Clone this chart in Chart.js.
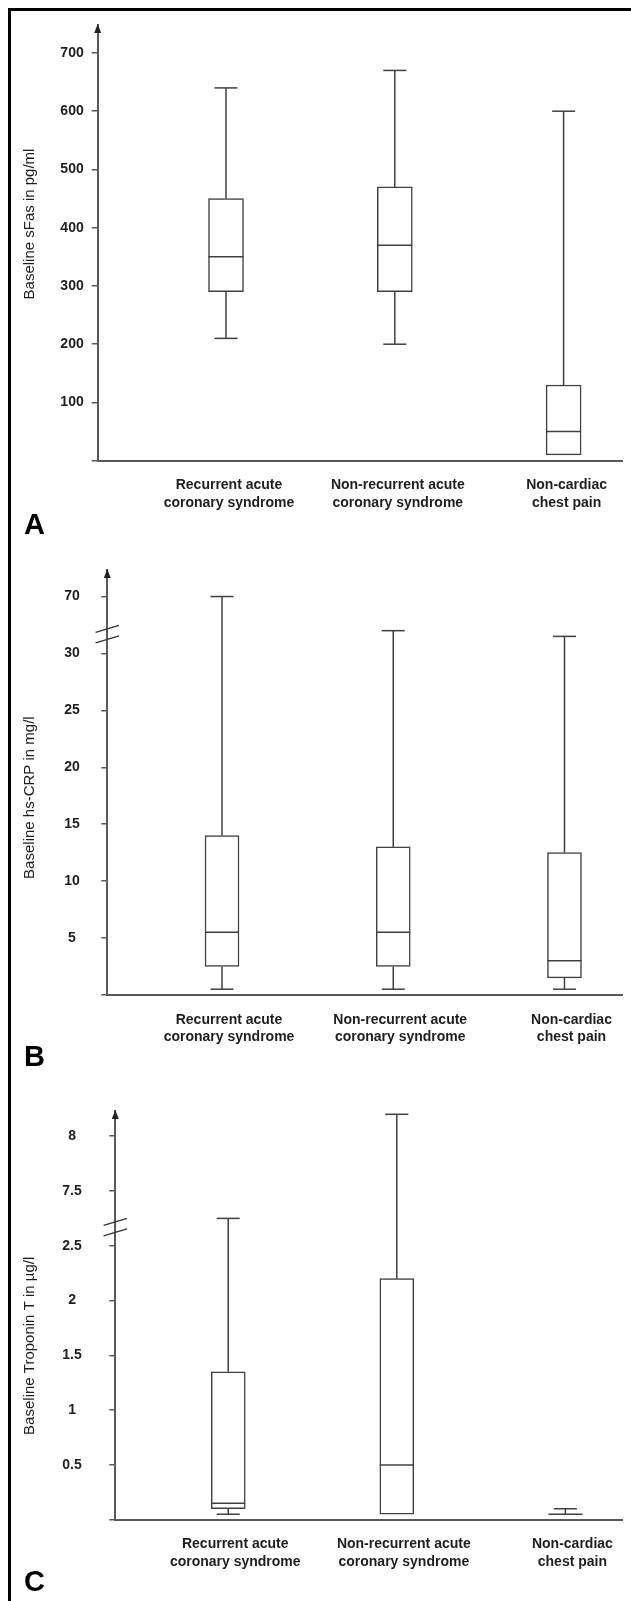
<!DOCTYPE html>
<html>
<head>
<meta charset="utf-8">
<title>Baseline sFas, hs-CRP and Troponin T</title>
<script src="https://cdn.jsdelivr.net/npm/chart.js@4/dist/chart.umd.min.js"></script>
<style>
	html, body { margin: 0; padding: 0; background: #fff; }
	#page { position: relative; width: 631px; height: 1601px; overflow: hidden; }
	#frame { position: absolute; left: 8px; top: 8px; right: -3px; bottom: -3px; border-top: 3px solid #000; border-left: 3px solid #000; }
	canvas { position: absolute; left: 0; }
</style>
</head>
<body>
<div id="page">
	<div id="frame"></div>
	<canvas id="chartA" width="631" height="540" style="top:0px"></canvas>
	<canvas id="chartB" width="631" height="535" style="top:540px"></canvas>
	<canvas id="chartC" width="631" height="526" style="top:1075px"></canvas>
</div>
<script>
// groups (same for all three panels)
const groups = [
	['Recurrent acute', 'coronary syndrome'],
	['Non-recurrent acute', 'coronary syndrome'],
	['Non-cardiac', 'chest pain']
];
const groupIndex = [1, 2, 3];

// A - baseline sFas, pg/ml
const sfasTicks = [0, 100, 200, 300, 400, 500, 600, 700];
const sfasMin = [210, 200, 10];
const sfasQ1 = [290, 290, 10];
const sfasMedian = [350, 370, 50];
const sfasQ3 = [450, 470, 130];
const sfasMax = [640, 670, 600];

// B - baseline hs-CRP, mg/l (axis broken between 30 and 70)
const crpTicks = [0, 5, 10, 15, 20, 25, 30, 70];
const crpMin = [0.5, 0.5, 0.5];
const crpQ1 = [2.5, 2.5, 1.5];
const crpMedian = [5.5, 5.5, 3];
const crpQ3 = [14, 13, 12.5];
const crpMax = [70, 46, 42];

// C - baseline Troponin T, µg/l (axis broken between 2.5 and 7.5)
const tntTicks = [0, 0.5, 1, 1.5, 2, 2.5, 7.5, 8];
const tntMin = [0.05, 0.05, 0.05];
const tntQ1 = [0.1, 0.05, 0.05];
const tntMedian = [0.15, 0.5, 0.05];
const tntQ3 = [1.35, 2.2, 0.05];
const tntMax = [5, 8.2, 0.1];

Chart.defaults.font.family = '"Liberation Sans", Arial, sans-serif';
Chart.defaults.color = '#1e1e1e';

const AXIS = '#5a5a5a';
const INK = '#404040';

/**
 * value -> position on a y axis that has a break (brk = {from, to, gap})
 */
function breakMap(brk) {
	return function(v) {
		if (!brk || v <= brk.from) return v;
		if (v <= brk.to) return brk.from + (v - brk.from) / (brk.to - brk.from) * brk.gap;
		return v - (brk.to - brk.from) + brk.gap;
	};
}

// whiskers, caps and median line on top of the floating bars
const whiskers = {
	id: 'whiskers',
	afterDatasetsDraw(chart, args, opts) {
		const ctx = chart.ctx;
		const y = chart.scales.y;
		const ds = chart.data.datasets[0];
		const st = ds.stats;
		const cap = opts.capWidth / 2;
		ctx.save();
		ctx.strokeStyle = INK;
		ctx.lineWidth = 1.5;
		const line = (x1, y1, x2, y2) => {
			ctx.beginPath();
			ctx.moveTo(x1, y1);
			ctx.lineTo(x2, y2);
			ctx.stroke();
		};
		chart.getDatasetMeta(0).data.forEach(function(bar, i) {
			const cx = bar.x;
			const half = bar.width / 2;
			const yq1 = y.getPixelForValue(st.q1[i]);
			const yq3 = y.getPixelForValue(st.q3[i]);
			const ymed = y.getPixelForValue(st.median[i]);
			if (st.max[i] > st.q3[i]) {
				const ymax = y.getPixelForValue(st.max[i]);
				line(cx, yq3, cx, ymax);
				line(cx - cap, ymax, cx + cap, ymax);
			}
			if (st.min[i] < st.q1[i]) {
				const ymin = y.getPixelForValue(st.min[i]);
				line(cx, yq1, cx, ymin);
				line(cx - cap, ymin, cx + cap, ymin);
			}
			line(cx - half, ymed, cx + half, ymed);
		});
		ctx.restore();
	}
};

// arrow head, axis break marks, rotated axis title, panel letter
const panelDecor = {
	id: 'panelDecor',
	afterDraw(chart, args, opts) {
		const ctx = chart.ctx;
		const area = chart.chartArea;
		const ax = chart.scales.y.right;
		ctx.save();
		// arrow head on the y axis
		ctx.fillStyle = '#222';
		ctx.beginPath();
		ctx.moveTo(ax, area.top - 1);
		ctx.lineTo(ax - 3.5, area.top + 8);
		ctx.lineTo(ax + 3.5, area.top + 8);
		ctx.closePath();
		ctx.fill();
		// break marks
		if (opts.breakAt != null) {
			const yb = chart.scales.y.getPixelForValue(opts.breakAt);
			ctx.strokeStyle = '#333';
			ctx.lineWidth = 1.5;
			[-5.25, 5.25].forEach(function(d) {
				ctx.beginPath();
				ctx.moveTo(ax - 11.7, yb + d + 3.5);
				ctx.lineTo(ax + 11.7, yb + d - 3.5);
				ctx.stroke();
			});
		}
		// y title
		ctx.fillStyle = '#1e1e1e';
		ctx.font = '15px "Liberation Sans", Arial, sans-serif';
		ctx.textAlign = 'center';
		ctx.textBaseline = 'middle';
		ctx.translate(opts.titleX, opts.titleY);
		ctx.rotate(-Math.PI / 2);
		ctx.fillText(opts.title, 0, 0);
		ctx.setTransform(1, 0, 0, 1, 0, 0);
		// panel letter
		ctx.font = 'bold 29px "Liberation Sans", Arial, sans-serif';
		ctx.textAlign = 'left';
		ctx.textBaseline = 'alphabetic';
		ctx.fillStyle = '#000';
		ctx.fillText(opts.letter, 24, opts.letterY);
		ctx.restore();
	}
};

function makePanel(p) {
	const pos = breakMap(p.brk);
	const points = groupIndex.map(function(g, i) {
		return { x: g, y: [pos(p.q1[i]), pos(p.q3[i])] };
	});
	new Chart(document.getElementById(p.canvas), {
		type: 'bar',
		data: {
			datasets: [{
				data: points,
				backgroundColor: '#fff',
				borderColor: INK,
				borderWidth: 1.5,
				borderSkipped: false,
				barThickness: p.barWidth,
				stats: {
					min: p.min.map(pos),
					q1: p.q1.map(pos),
					median: p.median.map(pos),
					q3: p.q3.map(pos),
					max: p.max.map(pos)
				}
			}]
		},
		options: {
			responsive: false,
			animation: false,
			layout: { padding: { top: p.top, right: 8.3, left: 0, bottom: 0 } },
			plugins: {
				legend: { display: false },
				tooltip: { enabled: false },
				whiskers: { capWidth: 23 },
				panelDecor: {
					letter: p.letter, letterY: p.letterY,
					title: p.title, titleX: 30, titleY: p.titleY,
					breakAt: p.brk ? p.brk.from + p.brk.gap * 0.34 : null
				}
			},
			scales: {
				x: {
					type: 'linear',
					offset: false,
					min: p.xMin,
					max: p.xMax,
					grid: { display: false, drawTicks: false },
					border: { display: true, color: AXIS, width: 2 },
					afterBuildTicks: function(scale) {
						scale.ticks = groupIndex.map(function(g) { return { value: g }; });
					},
					afterFit: function(scale) { scale.height = p.xAxisHeight; },
					ticks: {
						autoSkip: false,
						maxRotation: 0,
						padding: 16,
						labelOffset: p.labelShift,
						font: { size: 14, weight: 'bold', lineHeight: 1.25 },
						callback: function(value, index) { return groups[index]; }
					}
				},
				y: {
					min: 0,
					max: p.yMax,
					grid: { display: true, drawOnChartArea: false, drawTicks: true, tickLength: 6, color: AXIS, lineWidth: 1.5 },
					border: { display: true, color: AXIS, width: 2 },
					afterBuildTicks: function(scale) {
						scale.ticks = p.ticks.map(function(v) { return { value: pos(v) }; });
					},
					afterFit: function(scale) { scale.width = p.axisX; },
					ticks: {
						autoSkip: false,
						crossAlign: 'center',
						padding: p.tickPad,
						font: { size: 14, weight: 'bold' },
						callback: function(value, index) { return index === 0 ? '' : String(p.ticks[index]); }
					}
				}
			}
		},
		plugins: [whiskers, panelDecor]
	});
}

document.addEventListener('DOMContentLoaded', function() {
	makePanel({
		canvas: 'chartA', letter: 'A', letterY: 534,
		title: 'Baseline sFas in pg/ml', titleY: 224,
		ticks: sfasTicks, min: sfasMin, q1: sfasQ1, median: sfasMedian, q3: sfasQ3, max: sfasMax,
		brk: null, yMax: 748,
		top: 25, axisX: 97.7, xAxisHeight: 79.3, xMin: 0.24, xMax: 3.35,
		barWidth: 35, tickPad: 8, labelShift: 3
	});
	makePanel({
		canvas: 'chartB', letter: 'B', letterY: 525.5,
		title: 'Baseline hs-CRP in mg/l', titleY: 257.6,
		ticks: crpTicks, min: crpMin, q1: crpQ1, median: crpMedian, q3: crpQ3, max: crpMax,
		brk: { from: 30, to: 70, gap: 5 }, yMax: 37.34,
		top: 26.2, axisX: 107.3, xAxisHeight: 80.1, xMin: 0.33, xMax: 3.34,
		barWidth: 34, tickPad: 21.5, labelShift: 7
	});
	makePanel({
		canvas: 'chartC', letter: 'C', letterY: 516,
		title: 'Baseline Troponin T in µg/l', titleY: 270.8,
		ticks: tntTicks, min: tntMin, q1: tntQ1, median: tntMedian, q3: tntQ3, max: tntMax,
		brk: { from: 2.5, to: 7.5, gap: 0.5 }, yMax: 3.731,
		top: 24.6, axisX: 115.3, xAxisHeight: 81.3, xMin: 0.33, xMax: 3.34,
		barWidth: 34, tickPad: 27.5, labelShift: 7
	});
});
</script>
</body>
</html>
